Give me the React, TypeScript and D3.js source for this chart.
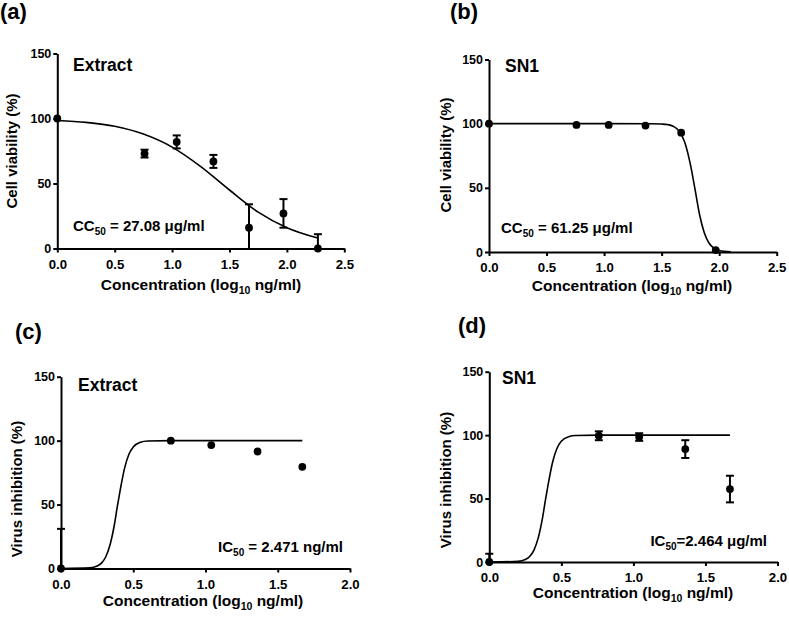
import React, { useEffect, useRef } from 'react';
import * as d3 from 'd3';

// panel (a) Extract, cell viability
const concA = [0, 0.76, 1.04, 1.36, 1.67, 1.97, 2.27];
const viabA = [100, 73, 82, 67, 16, 27, 0];
const errA = [0, 3, 5, 5, 18, 11, 11];
const fitXA = [0, 0.25, 0.5, 0.75, 1.0, 1.25, 1.5, 1.75, 2.0, 2.27];
const fitYA = [98.5, 97, 94, 88, 78, 63, 45, 28, 16, 8];

// panel (b) SN1, cell viability
const concB = [0, 0.76, 1.04, 1.36, 1.67, 1.97];
const viabB = [100, 99, 99, 98.5, 93, 1.5];
const errB = [0, 0, 0, 0, 0, 0];
const fitXB = [0, 0.5, 1.0, 1.4, 1.5, 1.55, 1.6, 1.65, 1.7, 1.75, 1.79, 1.83, 1.87, 1.91, 1.95, 2.0, 2.1];
const fitYB = [100, 100, 100, 99.97, 99.7, 99.3, 98, 94.4, 85.8, 68.3, 49, 29, 15.2, 7.2, 3.3, 1.2, 0.15];

// panel (c) Extract, virus inhibition
const concC = [0, 0.76, 1.04, 1.36, 1.67];
const inhC = [0, 100, 96.5, 91.5, 79.5];
const errC = [31, 0, 0, 0, 0];
const fitXC = [0, 0.2, 0.25, 0.28, 0.31, 0.34, 0.37, 0.39, 0.41, 0.44, 0.47, 0.5, 0.55, 0.6, 0.76, 1.0, 1.67];
const fitYC = [0, 0.5, 1.9, 4.2, 9.2, 18.8, 34.6, 48.6, 61.5, 78.5, 89.4, 95, 98.7, 99.7, 100, 100, 100];

// panel (d) SN1, virus inhibition
const concD = [0, 0.76, 1.04, 1.36, 1.67];
const inhD = [0, 99.5, 98.5, 89, 57.5];
const errD = [6.5, 3.5, 3, 7, 10.5];
const fitXD = [0, 0.2, 0.25, 0.28, 0.31, 0.34, 0.37, 0.39, 0.41, 0.44, 0.47, 0.5, 0.55, 0.6, 0.76, 1.0, 1.67];
const fitYD = [0, 0.5, 1.9, 4.3, 9.4, 19.2, 35.2, 49.2, 62.1, 79, 89.7, 95.2, 98.8, 99.7, 100, 100, 100];

const yTicks = [0, 50, 100, 150];
const xTicksTop = [0, 0.5, 1.0, 1.5, 2.0, 2.5];
const xTicksBottom = [0, 0.5, 1.0, 1.5, 2.0];

const FONT = '"Liberation Sans", Arial, sans-serif';

const panels = [
  {
    letter: '(a)', name: 'Extract', yTitle: 'Cell viability (%)', stat: ['CC', '50', ' = 27.08 μg/ml'],
    conc: concA, vals: viabA, err: errA, fitX: fitXA, fitY: fitYA, xTicks: xTicksTop, xMax: 2.5,
    box: { l: 57.3, r: 344.3, t: 53.5, b: 248.5 },
    letterPos: [0, 19], namePos: [73, 71], statPos: [73, 231], statAnchor: 'start', xTitlePos: [201, 290], yTitlePos: [17, 151],
  },
  {
    letter: '(b)', name: 'SN1', yTitle: 'Cell viability (%)', stat: ['CC', '50', ' = 61.25 μg/ml'],
    conc: concB, vals: viabB, err: errB, fitX: fitXB, fitY: fitYB, xTicks: xTicksTop, xMax: 2.5,
    box: { l: 489, r: 776.7, t: 59.5, b: 252 },
    letterPos: [450, 19], namePos: [505, 72], statPos: [501, 233], statAnchor: 'start', xTitlePos: [632, 291], yTitlePos: [451, 155],
  },
  {
    letter: '(c)', name: 'Extract', yTitle: 'Virus inhibition (%)', stat: ['IC', '50', ' = 2.471 ng/ml'],
    conc: concC, vals: inhC, err: errC, fitX: fitXC, fitY: fitYC, xTicks: xTicksBottom, xMax: 2.0,
    box: { l: 61, r: 350, t: 376.7, b: 568.5 },
    letterPos: [15, 339], namePos: [78, 391], statPos: [343, 552], statAnchor: 'end', xTitlePos: [203, 606], yTitlePos: [22, 489],
  },
  {
    letter: '(d)', name: 'SN1', yTitle: 'Virus inhibition (%)', stat: ['IC', '50', '=2.464 μg/ml'],
    conc: concD, vals: inhD, err: errD, fitX: fitXD, fitY: fitYD, xTicks: xTicksBottom, xMax: 2.0,
    box: { l: 489.3, r: 777.5, t: 371.7, b: 562 },
    letterPos: [458, 333], namePos: [502, 384], statPos: [767, 546], statAnchor: 'end', xTitlePos: [633, 598], yTitlePos: [451, 480],
  },
];

export default function App() {
  const ref = useRef<SVGSVGElement | null>(null);

  useEffect(() => {
    const svg = d3.select(ref.current);
    svg.selectAll('*').remove();
    svg.attr('font-family', FONT).attr('font-weight', 'bold');

    panels.forEach(p => {
      const x = d3.scaleLinear([0, p.xMax], [p.box.l, p.box.r]);
      const y = d3.scaleLinear([0, 150], [p.box.b, p.box.t]);
      const g = svg.append('g');

      // fitted curve
      const line = d3.line<number>()
        .x(d => x(d))
        .y((d, i) => y(p.fitY[i]))
        .curve(d3.curveMonotoneX);
      g.append('path')
        .attr('d', line(p.fitX))
        .attr('fill', 'none')
        .attr('stroke', '#000')
        .attr('stroke-width', 1.6);

      // error bars, clipped to the 0..150 range like the original
      p.conc.forEach((c, i) => {
        const e = p.err[i];
        if (!e) return;
        const hi = Math.min(150, p.vals[i] + e), lo = Math.max(0, p.vals[i] - e);
        g.append('line')
          .attr('x1', x(c)).attr('x2', x(c))
          .attr('y1', y(hi)).attr('y2', y(lo))
          .attr('stroke', '#000').attr('stroke-width', 2);
        if (p.vals[i] + e <= 150)
          g.append('line').attr('x1', x(c) - 4).attr('x2', x(c) + 4)
            .attr('y1', y(hi)).attr('y2', y(hi)).attr('stroke', '#000').attr('stroke-width', 2);
        if (p.vals[i] - e >= 0)
          g.append('line').attr('x1', x(c) - 4).attr('x2', x(c) + 4)
            .attr('y1', y(lo)).attr('y2', y(lo)).attr('stroke', '#000').attr('stroke-width', 2);
      });

      // axes
      const yAxis = d3.axisLeft(y).tickValues(yTicks).tickSize(4).tickSizeOuter(0).tickPadding(2).tickFormat(d3.format('d'));
      const xAxis = d3.axisBottom(x).tickValues(p.xTicks).tickSize(4).tickSizeOuter(0).tickPadding(7).tickFormat(d3.format('.1f'));
      const ya = g.append('g').attr('transform', `translate(${p.box.l},0)`).call(yAxis);
      const xa = g.append('g').attr('transform', `translate(0,${p.box.b})`).call(xAxis);
      [ya, xa].forEach(a => {
        a.attr('font-family', FONT).attr('font-weight', 'bold');
        a.select('.domain').attr('stroke-width', 2);
        a.selectAll('.tick line').attr('stroke-width', 2);
        a.selectAll('.tick text').attr('fill', '#000');
      });
      ya.attr('font-size', 12.5);
      xa.attr('font-size', 13.2);

      // points
      g.selectAll('circle.pt')
        .data(p.conc)
        .join('circle')
        .attr('class', 'pt')
        .attr('cx', d => x(d))
        .attr('cy', (d, i) => y(p.vals[i]))
        .attr('r', 3.9)
        .attr('fill', '#000');

      // texts
      g.append('text').attr('x', p.letterPos[0]).attr('y', p.letterPos[1])
        .attr('font-size', 22).text(p.letter);
      g.append('text').attr('x', p.namePos[0]).attr('y', p.namePos[1])
        .attr('font-size', 17.5).text(p.name);

      const st = g.append('text').attr('x', p.statPos[0]).attr('y', p.statPos[1])
        .attr('font-size', 15).attr('text-anchor', p.statAnchor);
      st.append('tspan').text(p.stat[0]);
      st.append('tspan').attr('font-size', 10).attr('dy', 4).text(p.stat[1]);
      st.append('tspan').attr('dy', -4).text(p.stat[2]);

      const xt = g.append('text').attr('x', p.xTitlePos[0]).attr('y', p.xTitlePos[1])
        .attr('font-size', 15.5).attr('text-anchor', 'middle');
      xt.append('tspan').text('Concentration (log');
      xt.append('tspan').attr('font-size', 10.5).attr('dy', 4).text('10');
      xt.append('tspan').attr('dy', -4).text(' ng/ml)');

      g.append('text')
        .attr('transform', `translate(${p.yTitlePos[0]},${p.yTitlePos[1]}) rotate(-90)`)
        .attr('font-size', 15).attr('text-anchor', 'middle')
        .text(p.yTitle);
    });
  }, []);

  return (
    <svg ref={ref} width={789} height={617}
      style={{ position: 'absolute', left: 0, top: 0, background: '#fff' }} />
  );
}
